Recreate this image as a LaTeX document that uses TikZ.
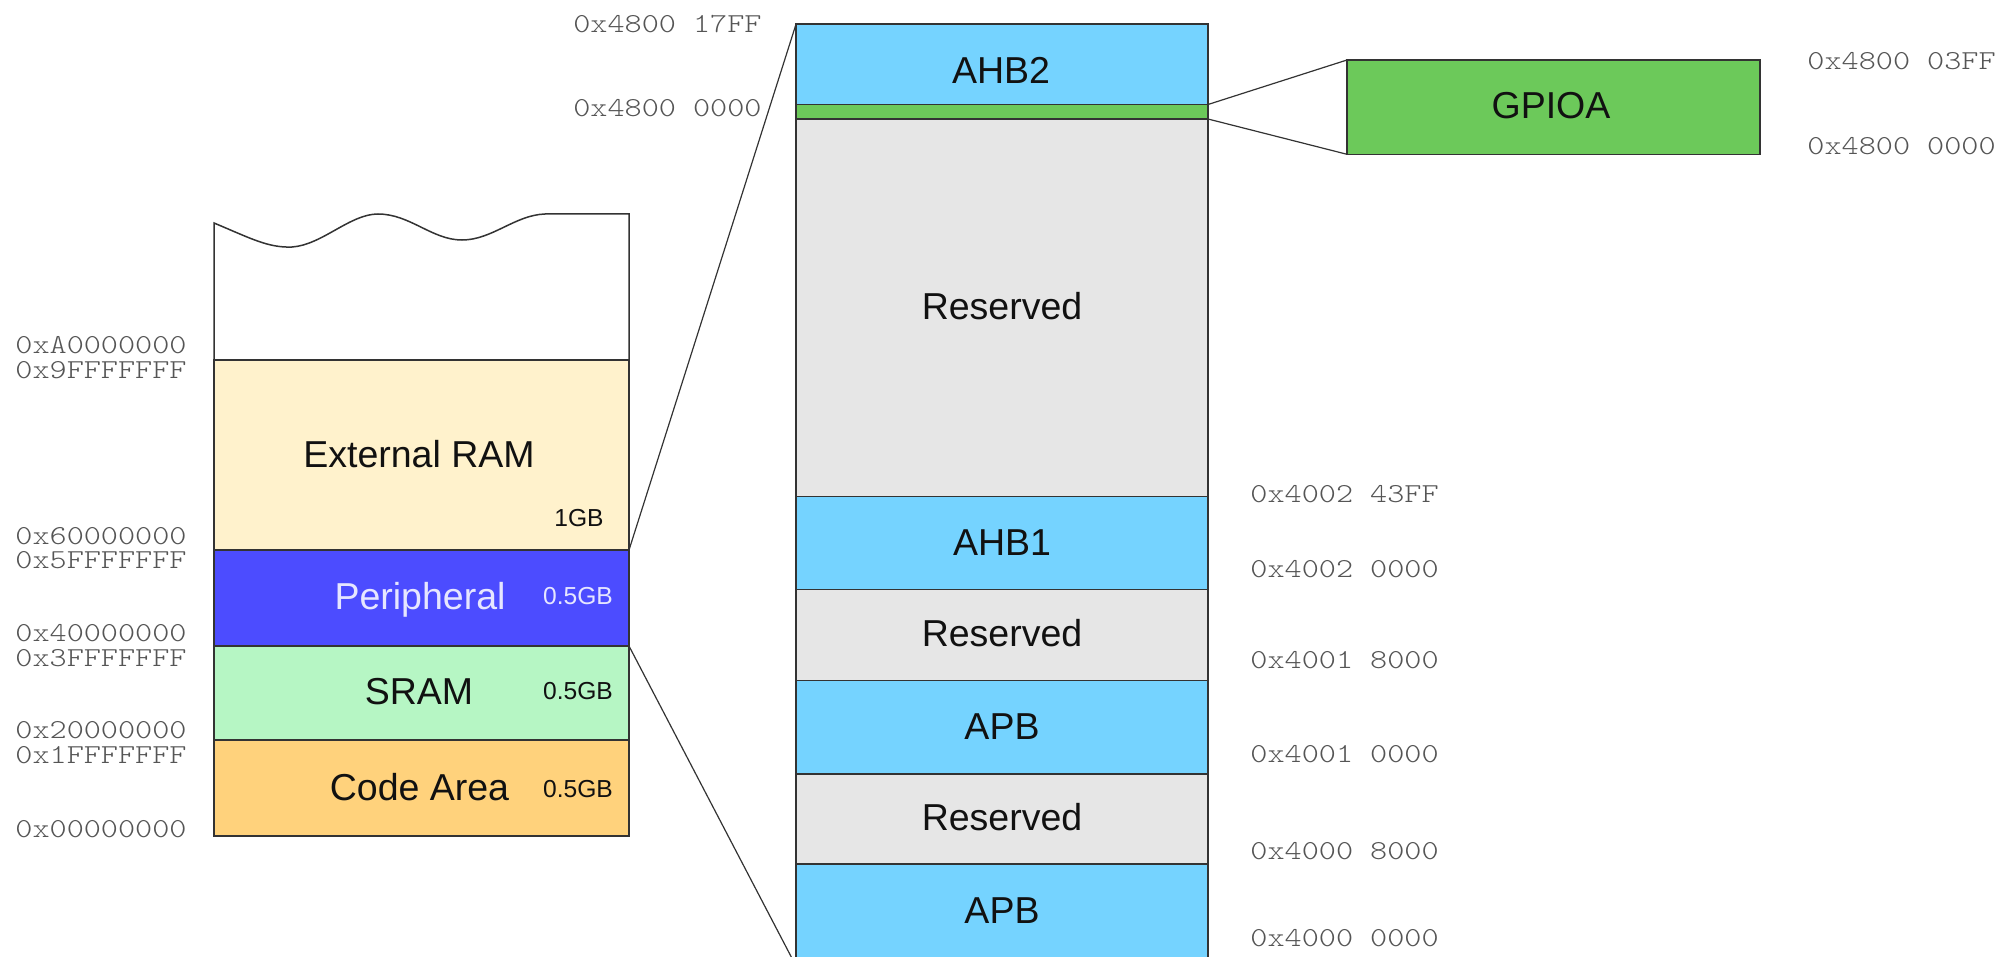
\documentclass[tikz,border=0pt]{standalone}
\usepackage{fontspec}
\setmainfont{Liberation Sans}
\newfontfamily\addrfamily{lmmonolt10-regular.otf}[FakeStretch=1.19]
\newcommand\labfont{\fontsize{18.75pt}{22pt}\selectfont}
\newcommand\sizefont{\fontsize{12.3pt}{14pt}\selectfont}
\newcommand\addrfont{\addrfamily\fontsize{13.7pt}{16pt}\selectfont}

\definecolor{edgec}{HTML}{333333}
\definecolor{ink}{HTML}{111111}
\definecolor{addrc}{HTML}{555555}
\definecolor{extram}{HTML}{FFF2CC}
\definecolor{peri}{HTML}{4C4CFF}
\definecolor{peritext}{HTML}{E6E6FF}
\definecolor{sram}{HTML}{B6F6C4}
\definecolor{code}{HTML}{FFD27C}
\definecolor{bus}{HTML}{75D3FF}
\definecolor{gpio}{HTML}{6CC95A}
\definecolor{resv}{HTML}{E6E6E6}

% one memory region: name, fill, x1, y1, x2, y2 (pixel grid, y downwards)
\newcommand\memblock[6]{%
  \node[blk, fill=#2, minimum width={(#5-#3)*0.5pt},
        minimum height={(#6-#4)*0.5pt}] (#1) at (#3,#4) {};}

\begin{document}
\begin{tikzpicture}[x=0.5pt, y=-0.5pt,
  blk/.style={draw=edgec, line width=0.75pt, inner sep=0pt, outer sep=0pt, anchor=north west},
  lab/.style={font=\labfont, text=ink, inner sep=0pt, text height=13.4pt, text depth=0pt},
  sz/.style={font=\sizefont, text=ink, inner sep=0pt, text height=8.8pt, text depth=0pt},
  addr/.style={font=\addrfont, text=addrc, inner sep=0pt, text height=8.3pt, text depth=0pt},
  link/.style={draw=edgec, line width=0.6pt}]
\useasboundingbox (0,0) rectangle (2000,957);
\clip (0,0) rectangle (2000,957);

% ---- full 4 GB address space ----
\draw[draw=edgec, line width=0.75pt, fill=white]
  (214,360) -- (214,223)
  .. controls (250,238) and (268,248) .. (292,247)
  .. controls (322,245) and (350,214) .. (378,214)
  .. controls (410,214) and (432,240) .. (462,240)
  .. controls (492,240) and (515,215) .. (545,214)
  -- (629,214) -- (629,360);
\memblock{ext}{extram}{214}{360}{629}{550}
\memblock{per}{peri}{214}{550}{629}{646}
\memblock{sram}{sram}{214}{646}{629}{740}
\memblock{code}{code}{214}{740}{629}{836}

\node[lab] (lext) at (419,454) {External RAM};
\node[sz]  (sext) at (579,518) {1GB};
\node[lab, text=peritext] (lper) at (420,596) {Peripheral};
\node[sz,  text=peritext] (sper) at (578,596) {0.5GB};
\node[lab] (lsram) at (419,691) {SRAM};
\node[sz]  (ssram) at (578,691) {0.5GB};
\node[lab] (lcode) at (419.5,787) {Code Area};
\node[sz]  (scode) at (578,789) {0.5GB};

\node[addr, anchor=west] (a1) at (15,345) {0xA0000000};
\node[addr, anchor=west] (a2) at (15,370) {0x9FFFFFFF};
\node[addr, anchor=west] (a3) at (15,536) {0x60000000};
\node[addr, anchor=west] (a4) at (15,560.5) {0x5FFFFFFF};
\node[addr, anchor=west] (a5) at (15,633) {0x40000000};
\node[addr, anchor=west] (a6) at (15,658) {0x3FFFFFFF};
\node[addr, anchor=west] (a7) at (15,730.5) {0x20000000};
\node[addr, anchor=west] (a8) at (15,755.5) {0x1FFFFFFF};
\node[addr, anchor=west] (a9) at (15,829.5) {0x00000000};

% ---- peripheral region ----
\memblock{ahb2}{bus}{796}{24.2}{1208}{104.5}
\memblock{strip}{gpio}{796}{104.5}{1208}{119}
\memblock{res1}{resv}{796}{119}{1208}{496.5}
\memblock{ahb1}{bus}{796}{496.5}{1208}{589.7}
\memblock{res2}{resv}{796}{589.7}{1208}{680.3}
\memblock{apb1}{bus}{796}{680.3}{1208}{774.2}
\memblock{res3}{resv}{796}{774.2}{1208}{864}
\memblock{apb0}{bus}{796}{864}{1208}{966}

\node[lab] (lahb2) at (1001,70) {AHB2};
\node[lab] (lres1) at (1002,306) {Reserved};
\node[lab] (lahb1) at (1002,542.5) {AHB1};
\node[lab] (lres2) at (1002,633.5) {Reserved};
\node[lab] (lapb1) at (1002,726) {APB};
\node[lab] (lres3) at (1002,817) {Reserved};
\node[lab] (lapb0) at (1002,910) {APB};

\node[addr, anchor=east] (b1) at (762,24.5) {0x4800 17FF};
\node[addr, anchor=east] (b2) at (762,108.5) {0x4800 0000};
\node[addr, anchor=west] (c1) at (1250,494.5) {0x4002 43FF};
\node[addr, anchor=west] (c2) at (1250,569.5) {0x4002 0000};
\node[addr, anchor=west] (c3) at (1250,660) {0x4001 8000};
\node[addr, anchor=west] (c4) at (1250,754.5) {0x4001 0000};
\node[addr, anchor=west] (c5) at (1250,851) {0x4000 8000};
\node[addr, anchor=west] (c6) at (1250,938.5) {0x4000 0000};

% ---- GPIOA ----
\memblock{gpioa}{gpio}{1347}{60}{1760}{154.3}
\node[lab] (lgpio) at (1551,105) {GPIOA};
\node[addr, anchor=west] (d1) at (1807,61.5) {0x4800 03FF};
\node[addr, anchor=west] (d2) at (1807,146) {0x4800 0000};

% ---- zoom connectors ----
\draw[link] (per.north east) -- (ahb2.north west);
\draw[link] (per.south east) -- (apb0.south west);
\draw[link] (strip.north east) -- (gpioa.north west);
\draw[link] (strip.south east) -- (gpioa.south west);
\end{tikzpicture}
\end{document}
